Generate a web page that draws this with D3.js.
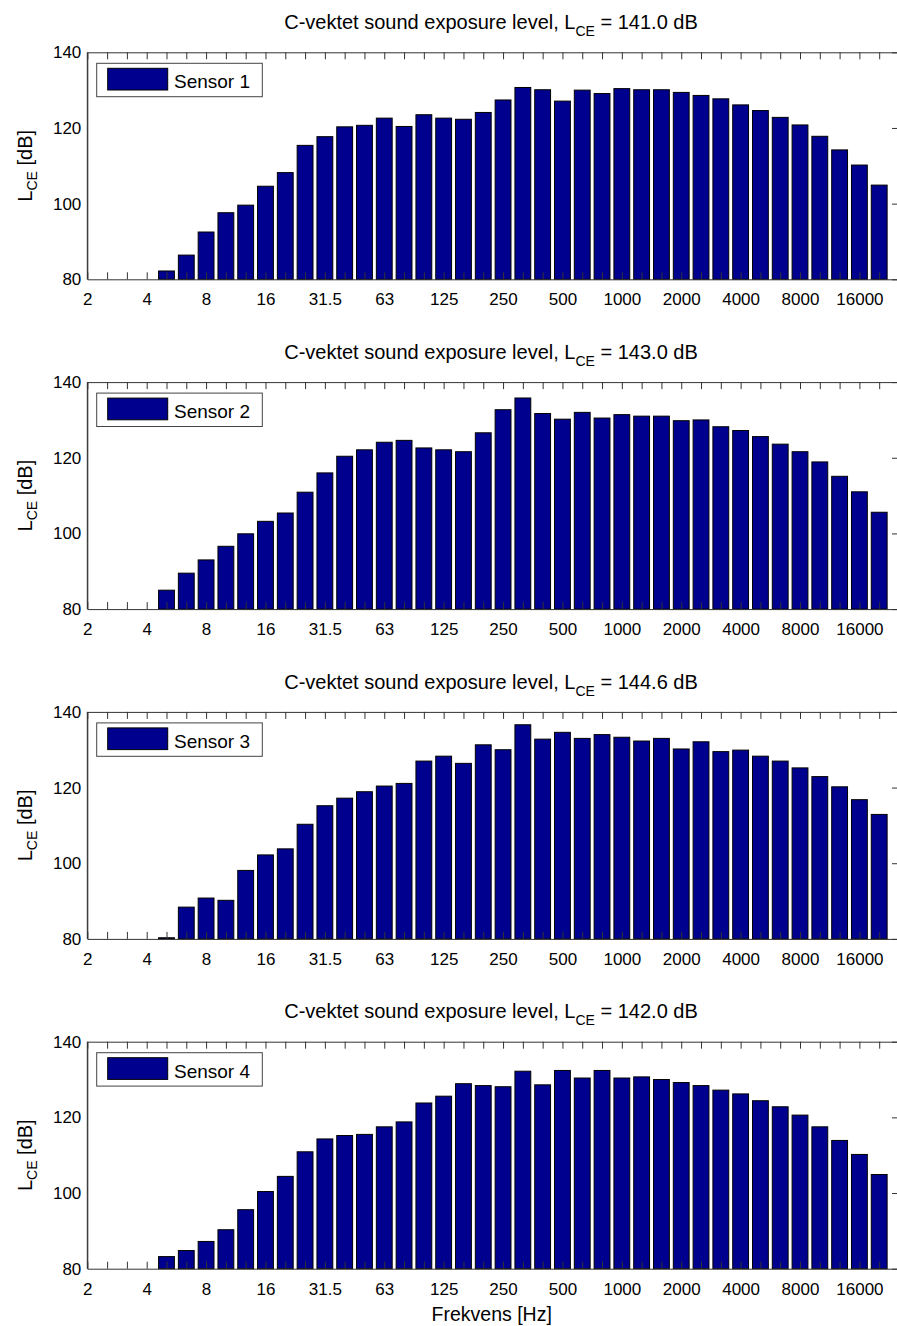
<!DOCTYPE html>
<html>
<head>
<meta charset="utf-8">
<script src="https://cdn.jsdelivr.net/npm/d3@7"></script>
<style>
  body { margin: 0; background: #fff; }
  svg { display: block; font-family: "Liberation Sans", Arial, Helvetica, sans-serif; }
</style>
</head>
<body>
<div id="chart"></div>
<script>
// 1/3-octave band centre frequencies (Hz)
const bands = ['2', '2.5', '3.15', '4', '5', '6.3', '8', '10', '12.5', '16', '20', '25', '31.5', '40', '50', '63', '80', '100',
  '125', '160', '200', '250', '315', '400', '500', '630', '800', '1000', '1250', '1600', '2000', '2500', '3150', '4000',
  '5000', '6300', '8000', '10000', '12500', '16000', '20000'];
const tickLabels = ['2', '4', '8', '16', '31.5', '63', '125', '250', '500', '1000', '2000', '4000', '8000', '16000'];
const yTicks = [80, 100, 120, 140];

const sensorNames = ['Sensor 1', 'Sensor 2', 'Sensor 3', 'Sensor 4'];
const totals = ['141.0', '143.0', '144.6', '142.0'];

// L_CE per band [dB]; null = below the axis floor
const sensor1 = [null, null, null, null, 82.2, 86.4, 92.5, 97.6, 99.6, 104.6, 108.2, 115.4, 117.7, 120.3, 120.7, 122.6, 120.4,
  123.5, 122.6, 122.3, 124.1, 127.4, 130.7, 130.1, 127.1, 130.0, 129.1, 130.4, 130.1, 130.1, 129.4, 128.6, 127.7, 126.1,
  124.6, 122.8, 120.8, 117.8, 114.2, 110.2, 104.9];
const sensor2 = [null, null, null, null, 85.0, 89.5, 93.0, 96.6, 99.9, 103.2, 105.4, 110.9, 116.0, 120.4, 122.1, 124.1, 124.6,
  122.6, 122.1, 121.6, 126.6, 132.7, 135.8, 131.7, 130.2, 132.0, 130.5, 131.4, 131.0, 131.0, 129.8, 130.0, 128.2, 127.2,
  125.6, 123.6, 121.6, 118.9, 115.1, 111.0, 105.6];
const sensor3 = [null, null, null, null, 80.3, 88.4, 90.8, 90.2, 98.1, 102.2, 103.8, 110.3, 115.2, 117.2, 118.9, 120.4, 121.1,
  127.0, 128.3, 126.4, 131.3, 130.0, 136.6, 132.8, 134.6, 133.0, 134.0, 133.3, 132.3, 133.0, 130.2, 132.1, 129.5, 129.9,
  128.3, 127.0, 125.2, 122.9, 120.2, 116.8, 112.9];
const sensor4 = [null, null, null, null, 83.2, 84.8, 87.2, 90.3, 95.6, 100.4, 104.4, 110.9, 114.3, 115.2, 115.5, 117.5, 118.8,
  123.8, 125.6, 128.9, 128.4, 128.1, 132.2, 128.6, 132.4, 130.4, 132.4, 130.4, 130.7, 130.0, 129.2, 128.4, 127.2, 126.2,
  124.4, 122.8, 120.6, 117.5, 113.9, 110.2, 104.9];
const series = [sensor1, sensor2, sensor3, sensor4];

const W = 897, H = 1326;
const left = 87.3, right = 899;
const top0 = 52.3, pitch = 329.8, ph = 227;
const barColor = '#00008f';
const axisColor = '#333';
const tickLen = 7;

const svg = d3.select('#chart').append('svg')
  .attr('width', W)
  .attr('height', H);

const x = d3.scaleLinear().domain([0, 41]).range([left, right]);
const step = x(1) - x(0);
const idx = d3.range(bands.length);

series.forEach(function(vals, p) {
  const g = svg.append('g').attr('transform', 'translate(0,' + (top0 + p * pitch) + ')');
  const y = d3.scaleLinear().domain([80, 140]).range([ph, 0]);

  // bars
  g.selectAll('.bar')
    .data(vals.map(function(v, i) { return { i: i, v: v }; }).filter(function(d) { return d.v !== null; }))
    .enter().append('rect')
    .attr('class', 'bar')
    .attr('x', function(d) { return x(d.i) - step * 0.4; })
    .attr('width', step * 0.8)
    .attr('y', function(d) { return y(d.v); })
    .attr('height', function(d) { return y(80) - y(d.v); })
    .attr('fill', barColor)
    .attr('stroke', '#000')
    .attr('stroke-width', 1);

  // bottom axis: ticks inside, labels every octave
  const xb = g.append('g').attr('transform', 'translate(0,' + ph + ')')
    .call(d3.axisBottom(x).tickValues(idx).tickSizeInner(-tickLen).tickSizeOuter(0).tickPadding(0)
      .tickFormat(function(i) { return i % 3 === 0 ? tickLabels[i / 3] : ''; }));
  xb.selectAll('text').attr('dy', null).attr('y', 26).style('font-size', '17px').attr('fill', '#000')
    .style('font-family', 'inherit');

  // top axis
  g.append('g')
    .call(d3.axisTop(x).tickValues(idx).tickSizeInner(-tickLen).tickSizeOuter(0).tickFormat(''));

  // left axis: labels only
  const yl = g.append('g').attr('transform', 'translate(' + left + ',0)')
    .call(d3.axisLeft(y).tickValues(yTicks).tickSize(0).tickPadding(6));
  yl.selectAll('text').style('font-size', '17px').attr('fill', '#000').style('font-family', 'inherit');

  // right axis
  g.append('g').attr('transform', 'translate(' + right + ',0)')
    .call(d3.axisRight(y).tickValues(yTicks).tickSizeInner(-tickLen).tickSizeOuter(0).tickFormat(''));

  g.selectAll('.domain').attr('stroke', axisColor);
  g.selectAll('.tick line').attr('stroke', axisColor);
  g.append('line').attr('x1', left).attr('x2', left).attr('y1', 0).attr('y2', ph).attr('stroke', axisColor);

  // title
  const t = g.append('text')
    .attr('x', 491)
    .attr('y', -23.3)
    .attr('text-anchor', 'middle')
    .style('font-size', '20px')
    .attr('fill', '#000');
  t.append('tspan').text('C-vektet sound exposure level, L');
  t.append('tspan').attr('dy', 7).style('font-size', '14px').text('CE');
  t.append('tspan').attr('dy', -7).text(' = ' + totals[p] + ' dB');

  // y label
  const yt = g.append('text')
    .attr('transform', 'translate(32,' + (ph / 2) + ') rotate(-90)')
    .attr('text-anchor', 'middle')
    .style('font-size', '20px')
    .attr('fill', '#000');
  yt.append('tspan').text('L');
  yt.append('tspan').attr('dy', 5).style('font-size', '14px').text('CE');
  yt.append('tspan').attr('dy', -5).text(' [dB]');

  // legend
  g.append('rect')
    .attr('x', 96.7).attr('y', 11).attr('width', 165.6).attr('height', 33.4)
    .attr('fill', '#fff').attr('stroke', '#444');
  g.append('rect')
    .attr('x', 107.7).attr('y', 16).attr('width', 60).attr('height', 21.7)
    .attr('fill', barColor).attr('stroke', '#000');
  g.append('text')
    .attr('x', 174).attr('y', 36)
    .style('font-size', '19px')
    .attr('fill', '#000')
    .text(sensorNames[p]);
});

svg.append('text')
  .attr('x', 491.7)
  .attr('y', 1321)
  .attr('text-anchor', 'middle')
  .style('font-size', '19.5px')
  .attr('fill', '#000')
  .text('Frekvens [Hz]');
</script>
</body>
</html>
